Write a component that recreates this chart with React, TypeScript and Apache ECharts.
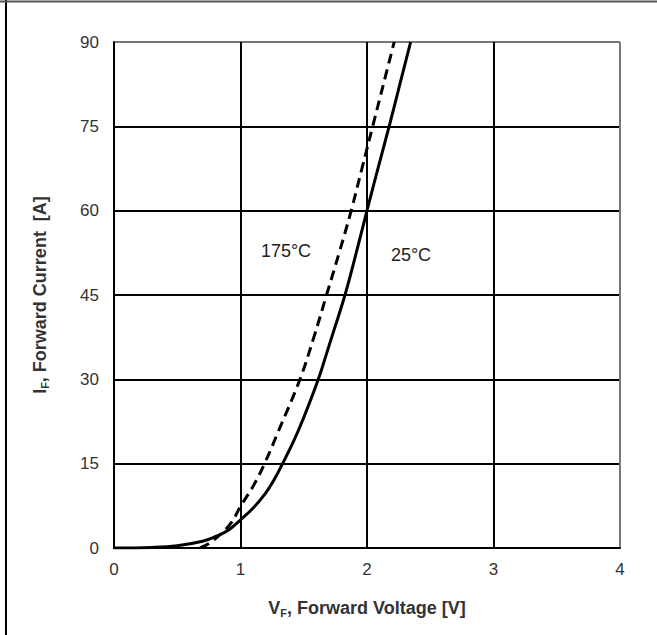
import React, { useEffect, useRef } from "react";
import * as echarts from "echarts";

const xTicks = [0, 1, 2, 3, 4];
const yTicks = [0, 15, 30, 45, 60, 75, 90];

// 25°C, solid
const v25 = [0, 0.3, 0.5, 0.7, 0.8, 0.9, 1.0, 1.1, 1.2, 1.27, 1.33, 1.42, 1.5, 1.615, 1.7, 1.826, 1.9, 2.0, 2.09, 2.175, 2.26, 2.345];
const i25 = [0, 0.1, 0.4, 1.2, 2.0, 3.1, 5.0, 7.1, 9.8, 12.3, 14.9, 19.0, 23.2, 30, 36, 45, 51.2, 60, 67.8, 75, 82.5, 90];

// 175°C, dashed
const v175 = [0.68, 0.75, 0.85, 0.93, 1.0, 1.1, 1.19, 1.3, 1.47, 1.58, 1.68, 1.78, 1.875, 1.96, 2.045, 2.13, 2.215];
const i175 = [0, 0.8, 2.6, 4.6, 7.4, 11, 15, 20.8, 30, 37.5, 45, 52.5, 60, 67.5, 75, 82.5, 90];

const label25 = "25°C";
const label175 = "175°C";

export default function App() {
  const ref = useRef<HTMLDivElement>(null);
  useEffect(() => {
    document.body.style.margin = "0";
    const chart = echarts.init(ref.current!, null, { renderer: "svg" });
    const font = "Liberation Sans, Arial, sans-serif";
    const grid = { left: 114, right: 37, top: 42, bottom: 87 };
    const richName = {
      m: { fontSize: 18, fontWeight: "bold", color: "#333", fontFamily: font },
      s: { fontSize: 11, fontWeight: "bold", color: "#333", fontFamily: font, padding: [9, 0, 0, 0] },
    };
    chart.setOption({
      animation: false,
      backgroundColor: "#fff",
      grid,
      xAxis: {
        type: "value",
        min: 0,
        max: 4,
        interval: 1,
        axisLine: { show: true, lineStyle: { color: "#000", width: 2 } },
        axisTick: { show: false },
        splitLine: {
          show: true,
          lineStyle: { color: ["#000", "#000", "#000", "#000", "#777"], width: 2 },
        },
        axisLabel: {
          color: "#333",
          fontSize: 17,
          fontFamily: font,
          margin: 13,
          formatter: (v: number) => (xTicks.includes(v) ? String(v) : ""),
        },
        name: "{m|V}{s|F}{m|, Forward Voltage [V]}",
        nameLocation: "middle",
        nameGap: 50,
        nameTextStyle: { rich: richName },
      },
      yAxis: {
        type: "value",
        min: 0,
        max: 90,
        interval: 15,
        axisLine: { show: true, lineStyle: { color: "#000", width: 2 } },
        axisTick: { show: false },
        splitLine: {
          show: true,
          lineStyle: { color: ["#000", "#000", "#000", "#000", "#000", "#000", "#777"], width: 2 },
        },
        axisLabel: {
          color: "#333",
          fontSize: 17,
          fontFamily: font,
          margin: 15,
          formatter: (v: number) => (yTicks.includes(v) ? String(v) : ""),
        },
        name: "{m|I}{s|F}{m|, Forward Current  [A]}",
        nameLocation: "middle",
        nameGap: 64,
        nameRotate: 90,
        nameTextStyle: { rich: richName },
      },
      series: [
        {
          type: "line",
          name: label25,
          data: v25.map((v, k) => [v, i25[k]]),
          smooth: 0.4,
          showSymbol: false,
          lineStyle: { color: "#000", width: 3 },
          clip: true,
        },
        {
          type: "line",
          name: label175,
          data: v175.map((v, k) => [v, i175[k]]),
          smooth: 0.4,
          showSymbol: false,
          lineStyle: { color: "#000", width: 3, type: [10, 6] },
          clip: true,
        },
      ],
      graphic: [
        { type: "line", shape: { x1: 6, y1: 0, x2: 6, y2: 635 }, style: { stroke: "#000", lineWidth: 2 } },
        { type: "line", shape: { x1: 0, y1: 1.5, x2: 657, y2: 1.5 }, style: { stroke: "#555", lineWidth: 2 } },
        {
          type: "text",
          x: 286,
          y: 251,
          style: { text: label175, fontSize: 18, fill: "#222", fontFamily: font, align: "center", verticalAlign: "middle" },
        },
        {
          type: "text",
          x: 411,
          y: 255,
          style: { text: label25, fontSize: 18, fill: "#222", fontFamily: font, align: "center", verticalAlign: "middle" },
        },
      ],
    });
    return () => chart.dispose();
  }, []);
  return <div ref={ref} style={{ width: 657, height: 635 }} />;
}
